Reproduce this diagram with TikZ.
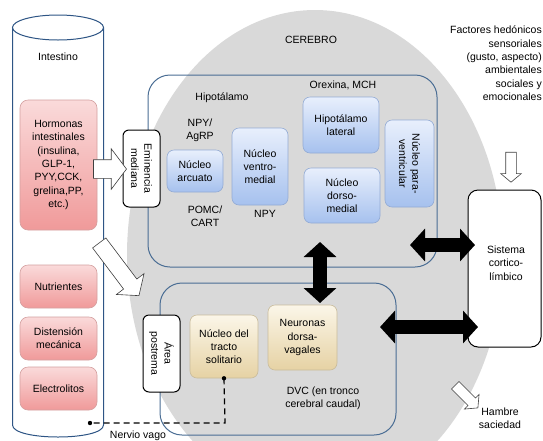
\documentclass[tikz,border=0pt]{standalone}
\usepackage{fontspec}
\setmainfont{Liberation Sans}
\usetikzlibrary{arrows.meta,shapes.arrows,calc}
\definecolor{greyc}{HTML}{D9D9D9}
\definecolor{frameblue}{HTML}{4A6D94}
\definecolor{cylblue}{HTML}{2E5585}
\definecolor{pinktop}{HTML}{FADADA}
\definecolor{pinkbot}{HTML}{F09A9A}
\definecolor{pinkline}{HTML}{D4A0A0}
\definecolor{bluetop}{HTML}{E8EFFC}
\definecolor{bluebot}{HTML}{A6C1EE}
\definecolor{blueline}{HTML}{93ABD5}
\definecolor{beigetop}{HTML}{FBF6E8}
\definecolor{beigebot}{HTML}{E6D2A4}
\definecolor{beigeline}{HTML}{C9BC9C}
\tikzset{
  pinkbox/.style={draw=pinkline, line width=0.6pt, rounded corners=8pt, top color=pinktop, bottom color=pinkbot, align=center, inner sep=0pt},
  bluebox/.style={draw=blueline, line width=0.6pt, rounded corners=7pt, top color=bluetop, bottom color=bluebot, align=center, inner sep=0pt},
  beigebox/.style={draw=beigeline, line width=0.6pt, rounded corners=7pt, top color=beigetop, bottom color=beigebot, align=center, inner sep=0pt},
  framebox/.style={draw=frameblue, line width=1pt, rounded corners=22pt, inner sep=0pt},
  whitebox/.style={draw=black, line width=1pt, rounded corners=6pt, fill=white, align=center, inner sep=0pt},
  lbl/.style={align=center, inner sep=0pt},
  whiteblk/.style={single arrow, draw=black!75, fill=white, line width=0.6pt, inner xsep=0pt},
  blackarr/.style={line width=14pt, black, {Triangle[width=32pt,length=15pt]}-{Triangle[width=32pt,length=15pt]}},
  vagus/.style={line width=1.2pt, dash pattern=on 6pt off 4pt}
}
\begin{document}
\begin{tikzpicture}[x=1pt,y=-1pt, font=\fontsize{10.5}{13.3}\selectfont]
\useasboundingbox (0,0) rectangle (543,440);
% brain background
\fill[greyc] (315,255) ellipse [x radius=188, y radius=245];
\node[lbl] (cerebro) at (311,40) {CEREBRO};

% intestine cylinder
\draw[cylblue, line width=1pt, fill=white] (12.5,27.5) -- (12.5,425) .. controls (12.5,441) and (103.5,441) .. (103.5,425) -- (103.5,27.5);
\draw[cylblue, line width=1pt, fill=white] (58,27.5) ellipse [x radius=45.5, y radius=12.5];
\node[lbl] (intestino) at (58,57) {Intestino};

\node[pinkbox, minimum width=77pt, minimum height=130pt] (horm) at (58.5,165) {Hormonas\\intestinales\\(insulina,\\GLP-1,\\PYY,CCK,\\grelina,PP,\\etc.)};
\node[pinkbox, minimum width=77pt, minimum height=43pt] (nutr) at (58.5,286.5) {Nutrientes};
\node[pinkbox, minimum width=77pt, minimum height=43pt] (dist) at (58.5,338.5) {Distensión\\mecánica};
\node[pinkbox, minimum width=77pt, minimum height=43pt] (elec) at (58.5,388.5) {Electrolitos};

% hypothalamus
\node[framebox, minimum width=289pt, minimum height=192pt] (hyp) at (292.5,171) {};
\node[lbl] (hyplbl) at (222,98) {Hipotálamo};
\node[lbl] (npyagrp) at (200,130) {NPY/\\AgRP};
\node[lbl] (pomc) at (205,216) {POMC/\\CART};
\node[lbl] (npy) at (265,214) {NPY};
\node[lbl] (orex) at (343,85) {Orexina, MCH};
\node[bluebox, minimum width=56pt, minimum height=42pt] (arc) at (195,171) {Núcleo\\arcuato};
\node[bluebox, minimum width=56pt, minimum height=77pt] (vmn) at (260,166.5) {Núcleo\\ventro-\\medial};
\node[bluebox, minimum width=76pt, minimum height=56pt] (lat) at (341,125) {Hipotálamo\\lateral};
\node[bluebox, minimum width=76pt, minimum height=55pt] (dmn) at (342,195.5) {Núcleo\\dorso-\\medial};
\node[bluebox, rotate=-90, minimum width=87pt, minimum height=49pt] (pvn) at (409.5,163.5) {Núcleo para-\\ventricular};

% DVC
\node[framebox, minimum width=236pt, minimum height=152pt] (dvc) at (278,359) {};
\node[lbl] (dvclbl) at (323,398) {DVC (en tronco\\cerebral caudal)};
\node[beigebox, minimum width=68pt, minimum height=63pt] (nts) at (224,346.5) {Núcleo del\\tracto\\solitario};
\node[beigebox, minimum width=69pt, minimum height=65pt] (dmv) at (302.5,337.5) {Neuronas\\dorsa-\\vagales};

% white boxes
\node[whitebox, rotate=-90, minimum width=77pt, minimum height=37pt] (emin) at (141.5,168.5) {Eminencia\\mediana};
\node[whitebox, rotate=-90, minimum width=77pt, minimum height=37pt] (area) at (161.5,353.5) {Área\\postrema};
\node[whitebox, rounded corners=10pt, minimum width=73pt, minimum height=157pt] (sis) at (504.5,268.5) {};
\node[lbl] (sislbl) at (506,263) {Sistema\\cortico-\\límbico};

% right texts
\node[lbl, align=right, anchor=north east] (fact) at (542,26) {Factores hedónicos\\sensoriales\\(gusto, aspecto)\\ambientales\\sociales y\\emocionales};
\node[lbl] (hambre) at (500,418) {Hambre\\saciedad};
\node[lbl] (vago) at (138,436) {Nervio vago};

% white block arrows
\node[whiteblk, inner ysep=9pt, single arrow head extend=11pt, single arrow tip angle=106, minimum height=33pt] (wa1) at (106.5,169) {};
\node[whiteblk, inner ysep=8pt, single arrow head extend=9pt, single arrow tip angle=100, minimum height=66pt, rotate=-53] (wa2) at (117,266.5) {};
\node[whiteblk, inner ysep=5pt, single arrow head extend=5pt, single arrow tip angle=100, minimum height=30pt, rotate=-90] (wa3) at (511,165) {};
\node[whiteblk, inner ysep=5pt, single arrow head extend=5pt, single arrow tip angle=100, minimum height=32pt, rotate=-45] (wa4) at (465,395) {};

% black double arrows
\coordinate (v1) at (320,242);
\coordinate (v2) at (320,303);
\draw[blackarr] (v1) -- (v2);
\coordinate (h1) at (410,245);
\coordinate (h2) at (475,245);
\draw[blackarr] (h1) -- (h2);
\coordinate (h3) at (380,327);
\coordinate (h4) at (478,327);
\draw[blackarr] (h3) -- (h4);

% vagus nerve
\coordinate (vg1) at (225,423);
\coordinate (vg2) at (90,423);
\draw[vagus] (nts.south) -- (vg1) -- (vg2);
\fill (nts.south) circle (2.2pt);
\fill (vg2) circle (2.2pt);
\end{tikzpicture}
\end{document}
